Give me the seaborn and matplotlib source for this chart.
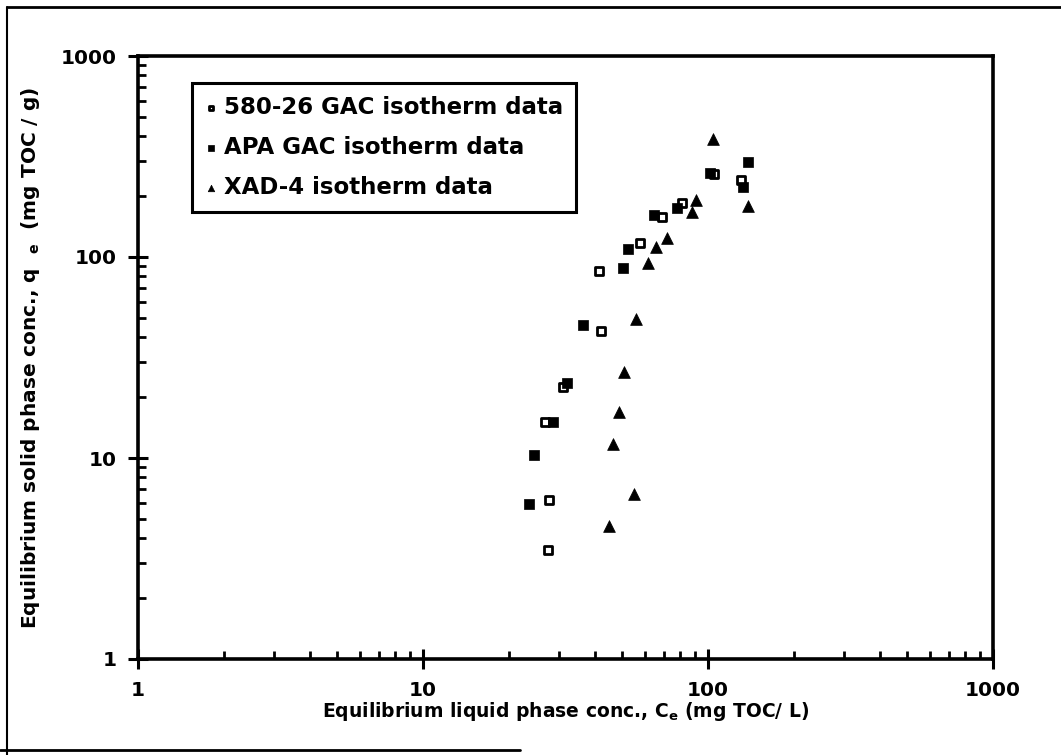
import numpy as np
import pandas as pd
import seaborn as sns
import matplotlib.pyplot as plt
from matplotlib.lines import Line2D
from matplotlib.ticker import LogLocator, NullFormatter, FixedLocator, FixedFormatter

# DATA
gac580_ce = [27.5, 27.7, 26.8, 31.0, 42.0, 41.6, 57.9, 68.8, 81.3, 105.0, 131.0]
gac580_qe = [3.5, 6.2, 15.1, 22.5, 43.0, 85.5, 118.0, 158.0, 186.0, 258.0, 242.0]

apa_ce = [23.5, 24.6, 28.7, 32.0, 36.5, 50.5, 52.5, 64.7, 78.0, 101.6, 133.0, 138.5]
apa_qe = [5.9, 10.3, 15.1, 23.5, 46.0, 88.0, 110.0, 162.0, 175.0, 263.0, 224.0, 296.0]

xad_ce = [45.0, 54.9, 46.5, 48.6, 50.7, 55.9, 61.7, 65.7, 71.6, 87.9, 90.8, 104.4, 138.5]
xad_qe = [4.6, 6.6, 11.8, 16.9, 26.9, 49.0, 93.0, 112.5, 124.0, 168.0, 192.0, 386.0, 179.0]

labels = ["580-26 GAC isotherm data", "APA GAC isotherm data", "XAD-4 isotherm data"]
tick_vals = [1, 10, 100, 1000]
tick_text = ["1", "10", "100", "1000"]

df = pd.concat([
    pd.DataFrame({"ce": gac580_ce, "qe": gac580_qe, "set": labels[0]}),
    pd.DataFrame({"ce": apa_ce, "qe": apa_qe, "set": labels[1]}),
    pd.DataFrame({"ce": xad_ce, "qe": xad_qe, "set": labels[2]}),
], ignore_index=True)

sns.set_style("ticks")
plt.rcParams["font.family"] = ["DejaVu Sans"]
plt.rcParams["font.weight"] = "bold"
plt.rcParams["mathtext.default"] = "regular"
plt.rcParams["text.color"] = "black"
plt.rcParams["axes.labelcolor"] = "black"
plt.rcParams["xtick.color"] = "black"
plt.rcParams["ytick.color"] = "black"

fig = plt.figure(figsize=(10.61, 7.55), dpi=100)
ax = fig.add_axes([138 / 1061, 1 - 659 / 755, (993 - 138) / 1061, (659 - 56) / 755])

# open squares, filled squares, triangles
sns.scatterplot(data=df[df["set"] == labels[0]], x="ce", y="qe", ax=ax,
                marker="s", s=30, facecolor="white", edgecolor="black",
                linewidth=2.0, label=labels[0], zorder=3)
sns.scatterplot(data=df[df["set"] == labels[1]], x="ce", y="qe", ax=ax,
                marker="s", s=58, color="black", edgecolor="black",
                linewidth=0.5, label=labels[1], zorder=3)
sns.scatterplot(data=df[df["set"] == labels[2]], x="ce", y="qe", ax=ax,
                marker="^", s=72, color="black", edgecolor="black",
                linewidth=0.5, label=labels[2], zorder=3)

ax.set_xscale("log")
ax.set_yscale("log")
ax.set_xlim(1, 1000)
ax.set_ylim(1, 1000)

for a in (ax.xaxis, ax.yaxis):
    a.set_major_locator(FixedLocator(tick_vals))
    a.set_major_formatter(FixedFormatter(tick_text))
    a.set_minor_locator(LogLocator(base=10, subs=np.arange(2, 10)))
    a.set_minor_formatter(NullFormatter())

ax.tick_params(which="major", direction="inout", length=14, width=2.2,
               labelsize=14.5, color="black", labelcolor="black")
ax.tick_params(which="minor", direction="in", length=6, width=2, color="black")
ax.tick_params(axis="x", which="major", pad=9)
ax.tick_params(axis="y", which="major", pad=8)

for sp in ax.spines.values():
    sp.set_linewidth(2.6)
    sp.set_color("black")

ax.set_xlabel("Equilibrium liquid phase conc., C$_{e}$ (mg TOC/ L)",
              fontsize=13.5, fontweight="bold", labelpad=0)
ax.set_ylabel("Equilibrium solid phase conc., q  $_{e}$  (mg TOC / g)",
              fontsize=14.5, fontweight="bold", labelpad=14)

leg = ax.legend(loc="upper left", bbox_to_anchor=(0.063, 0.955),
                borderaxespad=0, frameon=True, fancybox=False,
                fontsize=16.5, markerscale=0.55, handletextpad=0.25,
                labelspacing=0.75, borderpad=0.55, handlelength=0.6)
leg.get_frame().set_edgecolor("black")
leg.get_frame().set_linewidth(2.2)
leg.get_frame().set_alpha(1)
for t in leg.get_texts():
    t.set_fontweight("bold")
    t.set_color("black")

# scanned page frame
fig.add_artist(Line2D([7 / 1061, 7 / 1061], [0, 1 - 7 / 755],
                      transform=fig.transFigure, color="black", lw=1.5))
fig.add_artist(Line2D([7 / 1061, 1], [1 - 7 / 755, 1 - 7 / 755],
                      transform=fig.transFigure, color="black", lw=2))
fig.add_artist(Line2D([0, 520 / 1061], [5 / 755, 5 / 755],
                      transform=fig.transFigure, color="black", lw=2))

fig.savefig("out.png", dpi=100, facecolor="white")
